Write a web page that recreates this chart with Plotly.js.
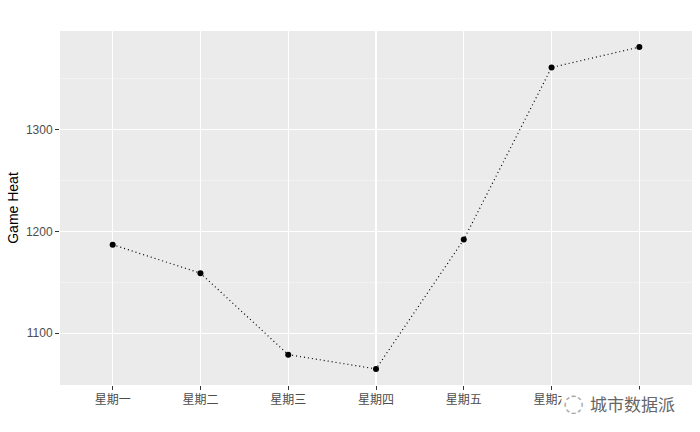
<!DOCTYPE html>
<html>
<head>
<meta charset="utf-8">
<script src="https://cdn.plot.ly/plotly-3.0.1.min.js"></script>
<style>html,body{margin:0;padding:0;background:#fff;}</style>
</head>
<body>
<div id="chart" style="width:700px;height:432px;"></div>
<script>
var days = ["星期一","星期二","星期三","星期四","星期五","星期六","星期日"];
var heat = [1187, 1159, 1079, 1065, 1192, 1361, 1381];
var yTicks = [1100, 1200, 1300];

var trace = {
  x: days,
  y: heat,
  type: "scatter",
  mode: "lines+markers",
  line: {color: "#000000", width: 1.2, dash: "1px,3px"},
  marker: {color: "#000000", size: 6},
  hoverinfo: "skip"
};

var layout = {
  width: 700,
  height: 432,
  margin: {l: 60, r: 8, t: 31, b: 47},
  paper_bgcolor: "#FFFFFF",
  plot_bgcolor: "#EBEBEB",
  showlegend: false,
  font: {family: "Liberation Sans, Arial, sans-serif", size: 12, color: "#4D4D4D"},
  xaxis: {
    type: "category",
    range: [-0.6, 6.6],
    showgrid: true,
    gridcolor: "#FFFFFF",
    gridwidth: 1.1,
    zeroline: false,
    showline: false,
    ticks: "outside",
    ticklen: 4,
    tickcolor: "#333333",
    tickwidth: 1,
    tickfont: {family: "Noto Sans CJK SC, sans-serif", size: 12, color: "#4D4D4D"}
  },
  yaxis: {
    range: [1049.2, 1396.8],
    tickvals: yTicks,
    ticktext: yTicks.map(String),
    showgrid: true,
    gridcolor: "#FFFFFF",
    gridwidth: 1.1,
    minor: {tickvals: [1050, 1150, 1250, 1350], showgrid: true, gridcolor: "#F7F7F7", gridwidth: 0.6, ticks: ""},
    zeroline: false,
    showline: false,
    ticks: "outside",
    ticklen: 4,
    tickcolor: "#333333",
    tickwidth: 1,
    tickfont: {size: 12, color: "#4D4D4D"},
    title: {text: "Game Heat", font: {size: 14, color: "#000000"}, standoff: 3}
  },
  annotations: [
    {
      xref: "paper", yref: "paper",
      x: 0.812, y: -0.051,
      xanchor: "center", yanchor: "middle",
      text: "◌",
      showarrow: false,
      bgcolor: "#FFFFFF",
      font: {family: "DejaVu Sans, sans-serif", size: 24, color: "#A8A8A8"}
    },
    {
      xref: "paper", yref: "paper",
      x: 0.977, y: -0.051,
      xanchor: "right", yanchor: "middle",
      text: "城市数据派",
      showarrow: false,
      bgcolor: "#FFFFFF",
      font: {family: "Noto Sans CJK SC, sans-serif", size: 17, color: "#666666"}
    }
  ]
};

Plotly.newPlot("chart", [trace], layout, {displayModeBar: false, staticPlot: true});
</script>
</body>
</html>
